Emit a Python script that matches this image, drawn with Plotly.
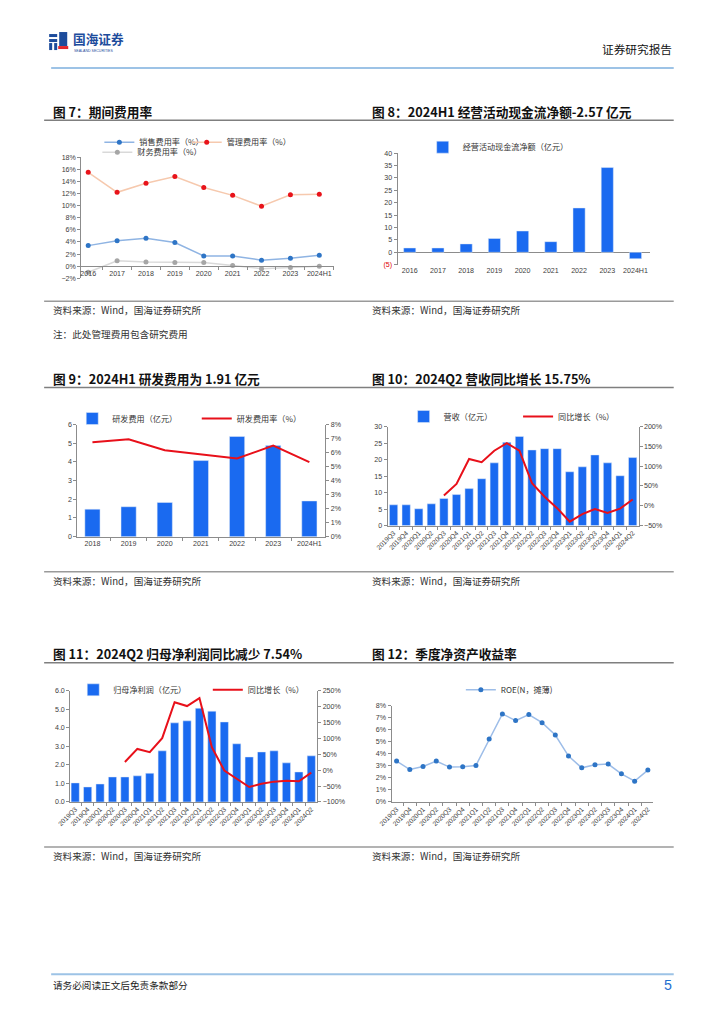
import plotly.graph_objects as go

W, H = 724, 1024
# the photographed page shows the figure at x' = 14 + 0.978 x, y' = 5 + 0.991 y;
# positions below are target positions on the photo, mapped back to paper coordinates
SX, OX, SY, OY = 0.978, 14.0, 0.991, 5.0
def X(px): return ((px - OX) / SX) / W
def Y(py): return 1 - ((py - OY) / SY) / H
FS = 1.0 / 0.985

# ---------------- data ----------------
years7 = ["2016", "2017", "2018", "2019", "2020", "2021", "2022", "2023", "2024H1"]
sales_rate = [3.4, 4.2, 4.6, 3.9, 1.7, 1.7, 1.0, 1.3, 1.8]
admin_rate = [15.5, 12.2, 13.7, 14.8, 13.0, 11.7, 9.9, 11.8, 11.9]
fin_rate = [-1.0, 0.9, 0.7, 0.6, 0.6, 0.1, -0.4, -0.2, 0.0]

years8 = ["2016", "2017", "2018", "2019", "2020", "2021", "2022", "2023", "2024H1"]
ocf = [1.75, 1.75, 3.4, 5.6, 8.6, 4.3, 17.9, 34.2, -2.57]
ocf_ticks = [40, 35, 30, 25, 20, 15, 10, 5, 0, -5]
ocf_ticktext = ["40", "35", "30", "25", "20", "15", "10", "5", "0",
                "<span style='color:#E00000'>(5)</span>"]

years9 = ["2018", "2019", "2020", "2021", "2022", "2023", "2024H1"]
rd_exp = [1.47, 1.60, 1.83, 4.07, 5.36, 4.87, 1.91]
rd_rate = [6.73, 6.95, 6.16, 5.85, 5.58, 6.49, 5.32]

quarters = ["2019Q3", "2019Q4", "2020Q1", "2020Q2", "2020Q3", "2020Q4",
            "2021Q1", "2021Q2", "2021Q3", "2021Q4", "2022Q1", "2022Q2",
            "2022Q3", "2022Q4", "2023Q1", "2023Q2", "2023Q3", "2023Q4",
            "2024Q1", "2024Q2"]
revenue = [6.3, 6.3, 5.1, 6.6, 8.2, 9.4, 11.2, 14.2, 19.0, 25.2, 27.0, 22.9,
           23.3, 23.3, 16.3, 17.8, 21.4, 19.0, 15.1, 20.6]
rev_yoy = [None, None, None, None, 26, 55, 118, 110, 139, 158, 139, 57,
           23, -6, -40, -21, -8, -18, -7, 15.75]
profit = [1.03, 0.81, 0.97, 1.35, 1.35, 1.41, 1.55, 2.76, 4.27, 4.38, 5.06, 4.90,
          4.32, 3.14, 2.43, 2.70, 2.76, 2.11, 1.62, 2.49]
profit_yoy = [None, None, None, None, 26, 67, 57, 101, 214, 202, 227, 72,
              -1, -28, -53, -43, -36, -33, -35, -7.54]
roe = [3.40, 2.70, 2.95, 3.40, 2.90, 2.92, 3.04, 5.24, 7.33, 6.77, 7.27, 6.60,
       5.57, 3.82, 2.84, 3.09, 3.15, 2.34, 1.73, 2.65]

# ---------------- styles ----------------
BLUE_BAR = "#1A6AF0"
RED = "#E8101A"
AX = "#8C8C8C"
TICKC = "#404040"
NUMF = "Liberation Sans, Arial, sans-serif"
CJK = "Noto Sans CJK SC, sans-serif"
tickfont = dict(family=NUMF, size=7 * FS, color=TICKC)

fig = go.Figure()

# Chart 7
fig.add_trace(go.Scatter(x=years7, y=sales_rate, name="销售费用率（%）", mode="lines+markers",
                         line=dict(color="#8FB4E3", width=1.5), marker=dict(color="#2E75C6", size=5),
                         xaxis="x", yaxis="y", legend="legend"))
fig.add_trace(go.Scatter(x=years7, y=admin_rate, name="管理费用率（%）", mode="lines+markers",
                         line=dict(color="#F6C9AE", width=1.5), marker=dict(color="#E8131A", size=5),
                         xaxis="x", yaxis="y", legend="legend2"))
fig.add_trace(go.Scatter(x=years7, y=fin_rate, name="财务费用率（%）", mode="lines+markers",
                         line=dict(color="#D9D9D9", width=1.5), marker=dict(color="#A6A6A6", size=5),
                         xaxis="x", yaxis="y", legend="legend3"))
# Chart 8
fig.add_trace(go.Bar(x=years8, y=ocf, name="经营活动现金流净额（亿元）", marker_color=BLUE_BAR,
                     width=0.43, xaxis="x2", yaxis="y2", legend="legend4"))
# Chart 9
fig.add_trace(go.Bar(x=years9, y=rd_exp, name="研发费用（亿元）", marker_color=BLUE_BAR,
                     width=0.42, xaxis="x3", yaxis="y3", legend="legend5"))
fig.add_trace(go.Scatter(x=years9, y=rd_rate, name="研发费用率（%）", mode="lines",
                         line=dict(color=RED, width=2), xaxis="x3", yaxis="y4", legend="legend6"))
# Chart 10
fig.add_trace(go.Bar(x=quarters, y=revenue, name="营收（亿元）", marker_color=BLUE_BAR,
                     width=0.66, xaxis="x4", yaxis="y5", legend="legend7"))
fig.add_trace(go.Scatter(x=quarters, y=rev_yoy, name="同比增长（%）", mode="lines",
                         line=dict(color=RED, width=2), xaxis="x4", yaxis="y6", legend="legend8"))
# Chart 11
fig.add_trace(go.Bar(x=quarters, y=profit, name="归母净利润（亿元）", marker_color=BLUE_BAR,
                     width=0.66, xaxis="x5", yaxis="y7", legend="legend9"))
fig.add_trace(go.Scatter(x=quarters, y=profit_yoy, name="同比增长（%）", mode="lines",
                         line=dict(color=RED, width=2), xaxis="x5", yaxis="y8", legend="legend10"))
# Chart 12
fig.add_trace(go.Scatter(x=quarters, y=roe, name="ROE(N，摊薄)", mode="lines+markers",
                         line=dict(color="#9DBDE8", width=1.5), marker=dict(color="#2E75C6", size=5),
                         xaxis="x6", yaxis="y9", legend="legend11"))

def xax(l, r, rng, **kw):
    d = dict(domain=[X(l), X(r)], range=rng, type="category", showline=True, linecolor=AX,
             linewidth=1, ticks="outside", tickson="boundaries", ticklen=3, tickcolor=AX,
             tickfont=tickfont, showgrid=False, zeroline=False, fixedrange=True, tickangle=0)
    d.update(kw)
    return d

def yax(top, bot, rng, **kw):
    d = dict(domain=[Y(bot), Y(top)], range=rng, showline=True, linecolor=AX, linewidth=1,
             ticks="outside", ticklen=3, tickcolor=AX, tickfont=tickfont, showgrid=False,
             zeroline=False, fixedrange=True)
    d.update(kw)
    return d

rot = dict(tickangle=-45, tickfont=dict(family=NUMF, size=6.5 * FS, color=TICKC))

layout = dict(
    width=W, height=H, margin=dict(l=0, r=0, t=0, b=0, pad=0), autosize=False,
    paper_bgcolor="white", plot_bgcolor="white", showlegend=True,
    # chart 7
    xaxis=xax(82, 334, [-0.24, 8.52], anchor="free", position=Y(267)),
    yaxis=yax(158, 279, [-2, 18], dtick=2, ticksuffix="%", anchor="x"),
    # chart 8
    xaxis2=xax(397, 648, [-0.43, 8.5], anchor="y2", showline=False, ticks=""),
    yaxis2=yax(154, 265.4, [-5, 40], tickvals=ocf_ticks, ticktext=ocf_ticktext, anchor="x2",
               zeroline=True, zerolinecolor=AX, zerolinewidth=1),
    # chart 9
    xaxis3=xax(78, 325, [-0.42, 6.44], anchor="y3"),
    yaxis3=yax(425, 537, [0, 6], dtick=1, anchor="x3"),
    yaxis4=yax(425, 537, [0, 8], dtick=1, ticksuffix="%", overlaying="y3", side="right", anchor="x3"),
    # chart 10
    xaxis4=xax(387, 637, [-0.48, 19.47], anchor="y5", **rot),
    yaxis5=yax(427, 526, [0, 30], dtick=5, anchor="x4"),
    yaxis6=yax(427, 526, [-50, 200], dtick=50, ticksuffix="%", overlaying="y5", side="right", anchor="x4"),
    # chart 11
    xaxis5=xax(71, 317, [-0.40, 19.48], anchor="y7", **rot),
    yaxis7=yax(691, 802, [0, 6], dtick=1, tickformat=".1f", anchor="x5"),
    yaxis8=yax(691, 802, [-100, 250], dtick=50, ticksuffix="%", overlaying="y7", side="right", anchor="x5"),
    # chart 12
    xaxis6=xax(391, 651, [-0.38, 19.36], anchor="y9", **rot),
    yaxis9=yax(706, 802, [0, 8], dtick=1, ticksuffix="%", anchor="x6"),
)

def leg(xpx, ypx):
    return dict(x=X(xpx), y=Y(ypx), xanchor="left", yanchor="middle", orientation="h",
                bgcolor="rgba(0,0,0,0)", borderwidth=0, itemwidth=30,
                font=dict(family=CJK, size=8 * FS, color="#333333"))

layout["legend"] = leg(100, 143)
layout["legend2"] = leg(187, 143)
layout["legend3"] = leg(98, 153)
layout["legend4"] = leg(422, 148)
layout["legend5"] = leg(73, 419)
layout["legend6"] = leg(197, 419)
layout["legend7"] = leg(403, 417)
layout["legend8"] = leg(517, 417)
layout["legend9"] = leg(74, 690)
layout["legend10"] = leg(208, 690)
layout["legend11"] = leg(460, 690)

fig.update_layout(**layout)

shapes = []
annotations = []

def hline(y, x0, x1, color, w):
    shapes.append(dict(type="line", xref="paper", yref="paper", x0=X(x0), x1=X(x1),
                       y0=Y(y), y1=Y(y), line=dict(color=color, width=w)))

def text(xpx, ypx, s, size, color="#222222", bold=False, anchor="left", family=CJK, pad=1):
    annotations.append(dict(x=X(xpx), y=Y(ypx), xref="paper", yref="paper", text=("<b>%s</b>" % s) if bold else s,
                            showarrow=False, xanchor=anchor, yanchor="middle", borderpad=pad,
                            font=dict(family=family, size=size * FS, color=color)))

def rect(x0, y0, x1, y1, color):
    shapes.append(dict(type="rect", xref="paper", yref="paper", x0=X(x0), x1=X(x1), y0=Y(y1), y1=Y(y0),
                       fillcolor=color, line_width=0))

# header
rect(50, 35, 58, 38, "#1D4C9C")
rect(50, 40, 58, 43, "#1D4C9C")
rect(50, 44, 53, 51, "#1D4C9C")
rect(55, 44, 58, 51, "#1D4C9C")
rect(60, 33, 68, 47, "#1D4C9C")
rect(59, 47, 69, 50, "#E3262C")
text(73, 39.5, "国海证券", 12.5, color="#1D4C9C", bold=True, pad=0)
text(74, 52, "SEALAND SECURITIES", 3.5, color="#1D4C9C", family=NUMF, pad=0)
text(672, 49, "证券研究报告", 11.5, color="#111111", anchor="right")
hline(69, 52, 672, "#9DC3E6", 2)

# section titles & lines
text(52, 112, "图 7：期间费用率", 12.5, color="#111111", bold=True)
text(370, 112, "图 8：2024H1 经营活动现金流净额-2.57 亿元", 12.5, color="#111111", bold=True)
hline(121, 45, 672, "#7F7F7F", 1.5)
hline(302, 45, 672, "#9A9A9A", 1.5)
text(52, 311, "资料来源：Wind，国海证券研究所", 9.5, color="#333333")
text(370, 311, "资料来源：Wind，国海证券研究所", 9.5, color="#333333")
text(52, 335, "注：此处管理费用包含研究费用", 9.5, color="#333333")

text(52, 379, "图 9：2024H1 研发费用为 1.91 亿元", 12.5, color="#111111", bold=True)
text(370, 379, "图 10：2024Q2 营收同比增长 15.75%", 12.5, color="#111111", bold=True)
hline(388, 45, 672, "#7F7F7F", 1.5)
hline(572, 45, 672, "#9A9A9A", 1.5)
text(52, 581, "资料来源：Wind，国海证券研究所", 9.5, color="#333333")
text(370, 581, "资料来源：Wind，国海证券研究所", 9.5, color="#333333")

text(52, 654, "图 11：2024Q2 归母净利润同比减少 7.54%", 12.5, color="#111111", bold=True)
text(370, 654, "图 12：季度净资产收益率", 12.5, color="#111111", bold=True)
hline(663, 45, 672, "#7F7F7F", 1.5)
hline(847, 45, 672, "#9A9A9A", 1.5)
text(52, 856, "资料来源：Wind，国海证券研究所", 9.5, color="#333333")
text(370, 856, "资料来源：Wind，国海证券研究所", 9.5, color="#333333")

# footer
hline(974, 52, 672, "#9DC3E6", 2)
text(52, 985, "请务必阅读正文后免责条款部分", 9.5, color="#222222")
text(672, 985, "5", 14, color="#1F6FD0", anchor="right", family=NUMF)

fig.update_layout(shapes=shapes, annotations=annotations)
fig.write_html("out.html", config={"displayModeBar": False, "staticPlot": True},
               post_script="document.body.style.margin='0';document.body.style.padding='0';"
                           "document.documentElement.style.overflow='hidden';")
